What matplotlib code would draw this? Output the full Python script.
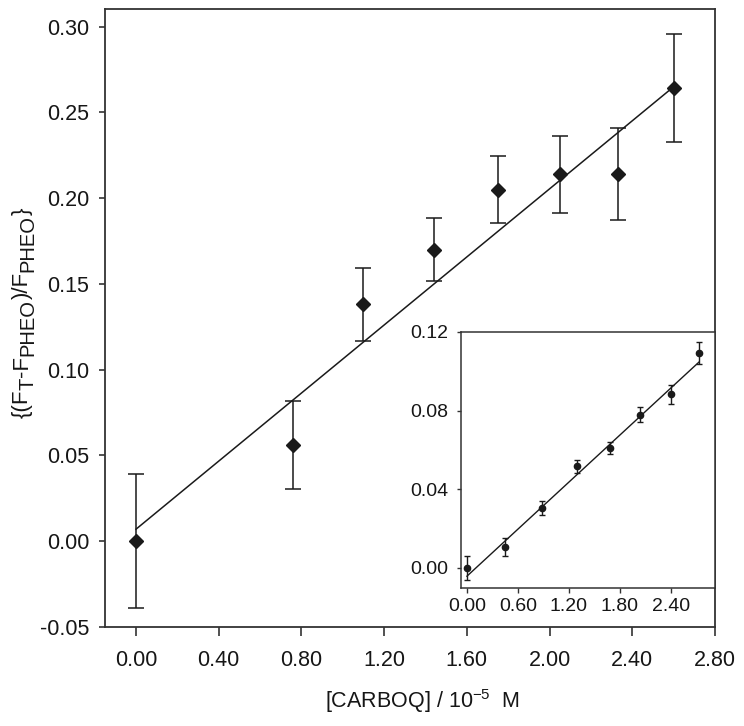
import numpy as np
import matplotlib
matplotlib.use("Agg")
import matplotlib.pyplot as plt
from matplotlib.transforms import IdentityTransform

plt.rcParams['font.family'] = ['Liberation Sans', 'DejaVu Sans']
plt.rcParams['mathtext.fontset'] = 'custom'
plt.rcParams['mathtext.rm'] = 'Liberation Sans'
plt.rcParams['mathtext.it'] = 'Liberation Sans:italic'

# main data
conc = [0.00, 0.76, 1.10, 1.44, 1.75, 2.05, 2.33, 2.60]
ratio = [0.000, 0.056, 0.138, 0.170, 0.205, 0.214, 0.214, 0.264]
ratio_err = [0.039, 0.0255, 0.021, 0.0185, 0.0195, 0.0225, 0.027, 0.0315]
fit_main = [0.007, 0.0992]  # intercept, slope

# inset data
conc_in = [0.00, 0.45, 0.88, 1.29, 1.68, 2.04, 2.40, 2.73]
ratio_in = [0.000, 0.0105, 0.0302, 0.0516, 0.0608, 0.0778, 0.0883, 0.1092]
ratio_in_err = [0.006, 0.0047, 0.0036, 0.0032, 0.003, 0.0038, 0.0047, 0.0056]
fit_in = [-0.0043, 0.0399]

main_ticks_x = [0.0, 0.4, 0.8, 1.2, 1.6, 2.0, 2.4, 2.8]
main_ticks_y = [-0.05, 0.0, 0.05, 0.10, 0.15, 0.20, 0.25, 0.30]
in_ticks_x = [0.0, 0.6, 1.2, 1.8, 2.4]
in_ticks_y = [0.0, 0.04, 0.08, 0.12]

# y label pieces: (text, is_subscript)
ylabel_parts = [("{(F", False), ("T", True), ("-F", False), ("PHEO", True),
                (")/F", False), ("PHEO", True), ("}", False)]

dark = '#1a1a1a'
spine_c = '#333333'
txt_c = '#161616'

fig = plt.figure(figsize=(7.44, 7.26), dpi=100)
ax = fig.add_axes([0.1411, 0.1364, 0.8199, 0.8506])

xs = np.array([0.0, conc[-1]])
ax.plot(xs, fit_main[0] + fit_main[1] * xs, color=dark, lw=1.1, zorder=2)
ax.errorbar(conc, ratio, yerr=ratio_err, fmt='D', ms=7.2, color=dark,
            ecolor=dark, elinewidth=1.1, capsize=5.5, capthick=1.1, zorder=3)

ax.set_xlim(-0.15, 2.80)
ax.set_ylim(-0.05, 0.31)
ax.set_xticks(main_ticks_x)
ax.set_xticklabels([f"{v:.2f}" for v in main_ticks_x])
ax.set_yticks(main_ticks_y)
ax.set_yticklabels([f"{v:.2f}" for v in main_ticks_y])
ax.tick_params(axis='x', direction='out', length=6.5, width=1.2, colors=spine_c,
               labelcolor=txt_c, labelsize=15.5, pad=10)
ax.tick_params(axis='y', direction='out', length=4.5, width=1.2, colors=spine_c,
               labelcolor=txt_c, labelsize=15.5, pad=7)
for s in ax.spines.values():
    s.set_color(spine_c)
    s.set_linewidth(1.3)

ax.set_xlabel(r"[CARBOQ] / 10$^{-5}$  M", fontsize=15.5, labelpad=12, color=txt_c)
ax.xaxis.label.set_x(0.52)

# y label built piece by piece so subscripts stay large, as in the original
renderer = fig.canvas.get_renderer()
y_pos = 726 - 418
for part, sub in ylabel_parts:
    size = 14.5 if sub else 16
    x_base = 33 if sub else 28
    fig.text(x_base, y_pos, part, fontsize=size, color=txt_c,
             rotation=90, rotation_mode='anchor', ha='left', va='baseline',
             transform=IdentityTransform())
    probe = fig.text(0, 0, part, fontsize=size, transform=IdentityTransform())
    y_pos += probe.get_window_extent(renderer).width
    probe.remove()

# inset
axi = fig.add_axes([0.6196, 0.1901, 0.3414, 0.3526])
axi.set_facecolor('white')
xi = np.array([0.0, conc_in[-1]])
axi.plot(xi, fit_in[0] + fit_in[1] * xi, color=dark, lw=1.0, zorder=2)
axi.errorbar(conc_in, ratio_in, yerr=ratio_in_err, fmt='o', ms=4.5, color=dark,
             ecolor=dark, elinewidth=1.0, capsize=2.5, capthick=1.0, zorder=3)
axi.set_xlim(-0.07, 2.92)
axi.set_ylim(-0.0103, 0.12)
axi.set_xticks(in_ticks_x)
axi.set_xticklabels([f"{v:.2f}" for v in in_ticks_x])
axi.set_yticks(in_ticks_y)
axi.set_yticklabels([f"{v:.2f}" for v in in_ticks_y])
axi.tick_params(axis='x', direction='out', length=3.5, width=1.0, colors=spine_c,
                labelcolor=txt_c, labelsize=14, pad=4)
axi.tick_params(axis='y', direction='out', length=3, width=1.0, colors=spine_c,
                labelcolor=txt_c, labelsize=14, pad=6)
for s in axi.spines.values():
    s.set_color(spine_c)
    s.set_linewidth(1.1)

fig.savefig('out.png', dpi=100)
